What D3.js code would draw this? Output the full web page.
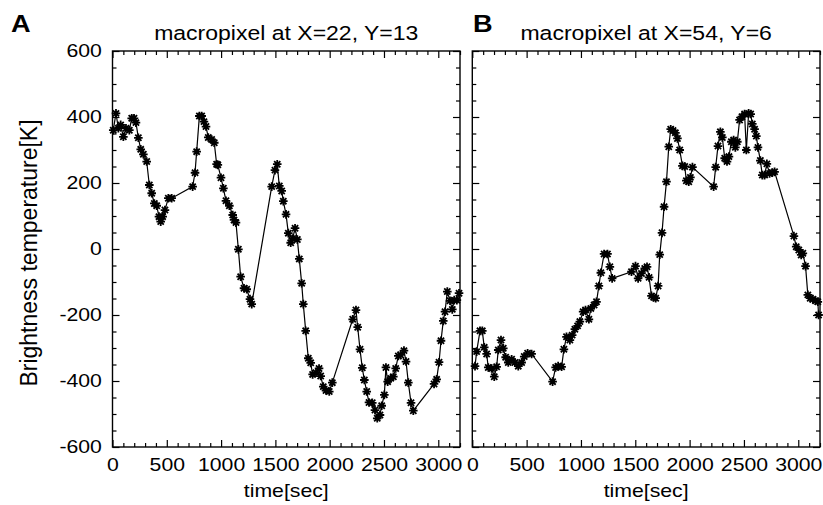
<!DOCTYPE html>
<html>
<head>
<meta charset="utf-8">
<script src="https://cdn.jsdelivr.net/npm/d3@7"></script>
<style>
  body { margin: 0; background: #fff; }
  text { font-family: "Liberation Sans", Arial, Helvetica, sans-serif; fill: #000; }
</style>
</head>
<body>
<div id="grafico"></div>
<script>
// painel A: macropixel X=22, Y=13
const tempoA = [7,32,54,75,100,124,155,177,198,216,238,260,284,315,339,361,385,407,428,444,462,483,514,545,
  738,760,775,800,821,842,861,882,913,937,959,970,999,1021,1045,1076,1107,1119,1137,1159,1180,1211,1236,1266,1282,
  1466,1496,1517,1536,1558,1573,1598,1619,1641,1659,1681,1702,1720,1742,1757,1779,1803,1825,1843,1874,1902,1917,
  1941,1966,1996,2024,2212,2242,2258,2279,2300,2319,2341,2362,2392,2417,2438,2463,2479,2503,2518,2534,2562,2586,
  2608,2632,2654,2684,2703,2724,2749,2770,2961,2985,3007,3025,3046,3062,3083,3108,3129,3147,3171,3191];
const valorA = [360,411,366,376,340,366,360,396,396,383,337,302,287,265,194,169,138,131,98,83,98,118,154,154,
  189,231,295,403,403,386,371,338,332,322,257,255,216,184,146,131,103,88,80,-1,-84,-119,-122,-152,-167,
  189,239,257,191,176,145,105,48,19,32,63,29,-30,-104,-167,-248,-331,-345,-380,-375,-362,-385,
  -417,-429,-432,-405,-213,-185,-237,-304,-360,-397,-432,-465,-466,-488,-513,-503,-475,-442,-359,-402,-392,-387,
  -362,-324,-321,-308,-341,-405,-466,-490,-409,-395,-343,-278,-218,-190,-129,-157,-183,-155,-155,-134];

// painel B: macropixel X=54, Y=6
const tempoB = [25,40,71,92,110,132,147,178,202,224,239,264,285,307,331,362,392,423,454,478,509,546,
  739,767,790,822,843,867,898,919,944,969,990,1020,1042,1073,1091,1121,1143,1165,1183,1213,1244,1266,1287,
  1465,1502,1526,1557,1587,1608,1627,1649,1670,1688,1710,1725,1746,1765,1787,1808,1826,1847,1869,1888,1909,
  1934,1955,1970,1992,2007,2026,2221,2240,2261,2283,2301,2323,2344,2362,2384,2405,2421,2439,2460,2482,2506,
  2522,2543,2562,2577,2598,2614,2629,2651,2669,2690,2711,2736,2761,2782,2960,2981,3005,3027,3042,3067,3088,
  3110,3134,3159,3180,3187];
const valorB = [-355,-311,-248,-248,-298,-318,-359,-362,-387,-357,-306,-276,-301,-328,-344,-334,-344,-355,-344,-326,-316,-318,
  -402,-359,-355,-357,-304,-266,-276,-261,-243,-233,-220,-190,-185,-213,-180,-170,-160,-112,-72,-15,-15,-54,-89,
  -69,-52,-89,-74,-59,-54,-86,-142,-146,-149,-112,-17,49,128,204,310,363,359,352,335,300,
  252,250,207,204,217,248,189,248,312,355,338,275,265,280,325,330,308,325,391,401,409,
  300,411,409,379,363,342,308,268,224,224,258,229,231,234,39,7,-3,-18,-13,-52,-139,
  -149,-152,-157,-160,-200];

const xTicks = [0, 500, 1000, 1500, 2000, 2500, 3000];
const yTicks = [-600, -400, -200, 0, 200, 400, 600];
const titulos = ["macropixel at X=22, Y=13", "macropixel at X=54, Y=6"];
const letras = ["A", "B"];

const largura = 823, altura = 505;
const topo = 51, base = 447;
const esticar = 1.18; // o texto original e mais largo que alto

const svg = d3.select("#grafico").append("svg")
  .attr("width", largura)
  .attr("height", altura);

// asterisco tipo IDL
function asterisco(r) {
  const d = r * 0.72;
  return `M${-r},0H${r}M0,${-r}V${r}M${-d},${-d}L${d},${d}M${-d},${d}L${d},${-d}`;
}

function painel(i, tempo, valor, esq, dir, rotuloY) {
  const x = d3.scaleLinear().domain([0, 3200]).range([esq, dir]);
  const y = d3.scaleLinear().domain([-600, 600]).range([base, topo]);
  const g = svg.append("g");

  const menoresX = d3.range(0, 3201, 100).filter(v => v % 500 !== 0);
  const menoresY = d3.range(-600, 601, 50).filter(v => v % 200 !== 0);

  // eixos com ticks para dentro
  g.append("g").attr("transform", `translate(0,${base})`)
    .call(d3.axisBottom(x).tickValues(xTicks).tickSize(-7).tickPadding(11).tickFormat(d => d));
  g.append("g").attr("transform", `translate(0,${base})`)
    .call(d3.axisBottom(x).tickValues(menoresX).tickSize(-4).tickFormat(""));
  g.append("g").attr("transform", `translate(0,${topo})`)
    .call(d3.axisTop(x).tickValues(xTicks).tickSize(-7).tickFormat(""));
  g.append("g").attr("transform", `translate(0,${topo})`)
    .call(d3.axisTop(x).tickValues(menoresX).tickSize(-4).tickFormat(""));

  g.append("g").attr("transform", `translate(${esq},0)`)
    .call(d3.axisLeft(y).tickValues(yTicks).tickSize(-7).tickPadding(9)
      .tickFormat(rotuloY ? (d => d) : ""));
  g.append("g").attr("transform", `translate(${esq},0)`)
    .call(d3.axisLeft(y).tickValues(menoresY).tickSize(-4).tickFormat(""));
  g.append("g").attr("transform", `translate(${dir},0)`)
    .call(d3.axisRight(y).tickValues(yTicks).tickSize(-7).tickFormat(""));
  g.append("g").attr("transform", `translate(${dir},0)`)
    .call(d3.axisRight(y).tickValues(menoresY).tickSize(-4).tickFormat(""));

  g.selectAll(".domain").remove();
  g.selectAll(".tick line").attr("stroke", "#000").attr("stroke-width", 1.2);
  g.selectAll(".tick text")
    .style("font-size", "18px")
    .attr("fill", "#000")
    .attr("transform", `scale(${esticar},1)`);

  // moldura
  g.append("rect")
    .attr("x", esq).attr("y", topo)
    .attr("width", dir - esq).attr("height", base - topo)
    .attr("fill", "none").attr("stroke", "#000").attr("stroke-width", 1.4);

  const dados = tempo.map((t, k) => ({ t: t, v: valor[k] }));

  const linha = d3.line().x(d => x(d.t)).y(d => y(d.v));
  g.append("path")
    .datum(dados)
    .attr("d", linha)
    .attr("fill", "none")
    .attr("stroke", "#000")
    .attr("stroke-width", 1.2);

  g.selectAll(".ponto")
    .data(dados)
    .enter()
    .append("path")
    .attr("class", "ponto")
    .attr("d", asterisco(4.3))
    .attr("transform", d => `translate(${x(d.t)},${y(d.v)})`)
    .attr("fill", "none")
    .attr("stroke", "#000")
    .attr("stroke-width", 1.8);

  // titulo
  const cx = (esq + dir) / 2;
  g.append("text")
    .attr("transform", `translate(${cx},40) scale(${esticar},1)`)
    .attr("text-anchor", "middle")
    .style("font-size", "19.5px")
    .text(titulos[i]);

  // letra do painel
  g.append("text")
    .attr("transform", `translate(${i === 0 ? 11 : 473},32) scale(${esticar},1)`)
    .style("font-size", "23px")
    .style("font-weight", "bold")
    .text(letras[i]);

  // legenda eixo x
  g.append("text")
    .attr("transform", `translate(${cx},497) scale(${esticar},1)`)
    .attr("text-anchor", "middle")
    .style("font-size", "18px")
    .text("time[sec]");
}

painel(0, tempoA, valorA, 112.5, 460, true);
painel(1, tempoB, valorB, 472.3, 820, false);

// legenda eixo y
svg.append("text")
  .attr("transform", `translate(37,253) rotate(-90)`)
  .attr("text-anchor", "middle")
  .style("font-size", "23px")
  .text("Brightness temperature[K]");
</script>
</body>
</html>
